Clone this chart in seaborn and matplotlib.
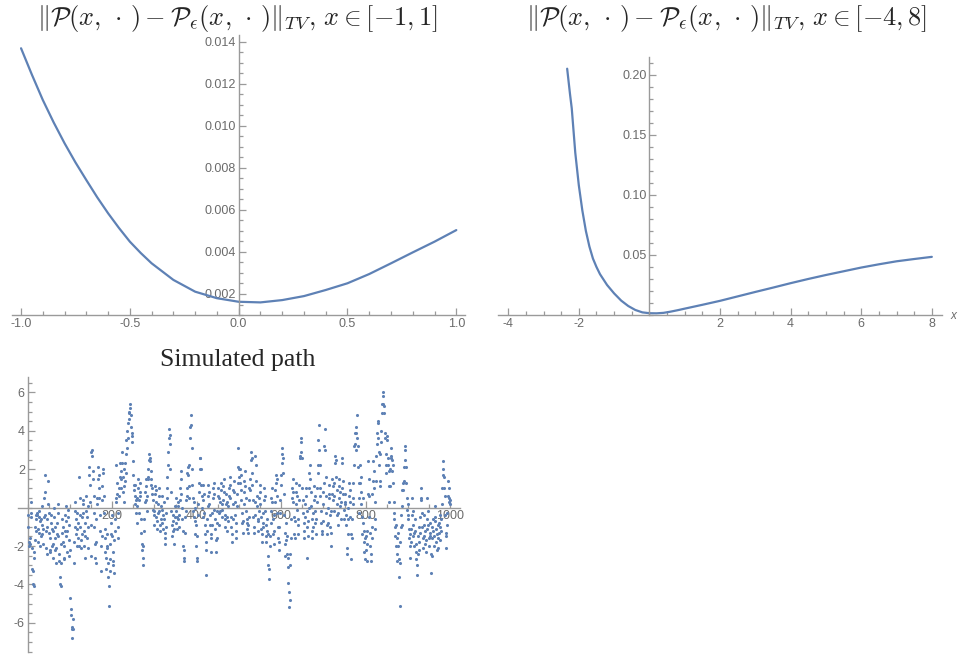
import numpy as np
import pandas as pd
import seaborn as sns
import matplotlib.pyplot as plt
from matplotlib.ticker import MultipleLocator, FixedLocator

# ---- data ----
# top-left: TV distance on [-1, 1]
x_small = [-1.0, -0.95, -0.9, -0.85, -0.8, -0.75, -0.7, -0.65, -0.6, -0.55,
           -0.5, -0.45, -0.4, -0.3, -0.2, -0.1, 0.0,
           0.1, 0.2, 0.3, 0.4, 0.5, 0.6, 0.7, 0.8, 0.9, 1.0]
tv_small = [0.01369, 0.01243, 0.01123, 0.01016, 0.00917, 0.00826, 0.00742,
            0.00660, 0.00584, 0.00514, 0.00449, 0.00395, 0.00346,
            0.00267, 0.00211, 0.00180, 0.00163, 0.00160, 0.00171, 0.00190,
            0.00219, 0.00251, 0.00295, 0.00346, 0.00398, 0.00449, 0.00504]

# top-right: TV distance on [-4, 8] (curve only visible from about -2.33)
x_wide = [-2.33, -2.25, -2.2, -2.1, -2.0, -1.9, -1.8, -1.7, -1.6, -1.5, -1.4,
          -1.2, -1.0, -0.8, -0.6, -0.4, -0.2, 0.0, 0.2, 0.4, 0.6, 0.8, 1.0,
          1.5, 2.0, 2.5, 3.0, 3.5, 4.0, 4.5, 5.0, 5.5, 6.0, 6.5, 7.0, 7.5, 8.0]
tv_wide = [0.205, 0.184, 0.172, 0.135, 0.108, 0.087, 0.070, 0.057, 0.047,
           0.040, 0.034, 0.025, 0.018, 0.012, 0.0075, 0.0042, 0.0022, 0.0015,
           0.0014, 0.0018, 0.0028, 0.0040, 0.0053, 0.0085, 0.0118, 0.0155,
           0.0192, 0.0228, 0.0265, 0.0300, 0.0333, 0.0364, 0.0395, 0.0422,
           0.0447, 0.0466, 0.0484]

# bottom: simulated path, 1000 steps (values estimated from the scatter)
path = [
    -0.4, -1.0, -1.8, -2.0, -1.9, -1.6, -0.3, 0.3, -0.5, -2.1, -3.2, -3.3, -4.0, -4.1, -2.6, -2.3, -1.7, -1.0, -0.4, -0.6, -1.2, -0.4, -0.3, -1.1, -1.8,
    -0.5, -0.2, -1.3, -0.7, -2.0, -1.5, -0.6, 0.1, -0.9, -1.4, -1.9, -1.1, -0.5, 0.5, 0.8, 1.7, -0.4, -1.2, -2.1, -2.4, -1.0, -0.6, 1.4, 0.2, -0.3,
    -1.3, -2.2, -2.3, -1.6, -0.8, -0.4, -1.1, -2.0, -2.6, -1.9, -1.2, -0.5, 0.0, -1.0, -1.6, -2.2, -2.9, -2.1, -1.4, -0.8, 0.2, -0.3, -1.5, -2.8, -2.4,
    -3.6, -4.0, -4.1, -2.9, -1.9, -1.3, -0.6, -1.0, -1.8, -2.6, -2.7, -2.0, -1.2, -0.4, 0.1, -0.7, -1.5, -2.3, -1.2, -0.5, -0.1, -0.9, -1.7, -2.5, -2.2,
    -4.7, -5.3, -5.6, -6.2, -6.3, -6.8, -6.3, -5.8, -2.9, -1.8, -1.0, -0.2, 0.3, -0.6, -1.4, -2.0, -1.1, -0.3, -0.8, -1.6, -2.0, 1.6, 0.5, -0.4, -1.0,
    -1.7, -2.1, -1.4, -0.5, 0.2, 0.4, -0.3, -1.2, -2.0, -2.6, -1.5, -0.8, -0.2, 0.6, -0.5, -1.6, -2.1, -1.0, 0.1, 1.7, 2.1, 1.2, 0.3, -0.9, -2.5,
    2.9, 3.0, 2.7, 1.5, 1.9, 0.6, -0.3, -1.0, -1.9, -2.6, -2.9, -1.8, -0.6, 0.2, 0.5, 1.5, 2.1, 1.7, 1.0, 0.5, -0.4, -1.2, -2.0, -3.3, -1.5,
    0.4, 1.1, 2.0, 1.8, 0.6, -0.3, -1.1, -1.6, -2.3, -2.6, -3.2, -2.1, -1.4, -2.0, -2.9, -3.6, -4.1, -5.1, -3.3, -2.7, -1.9, -1.4, -0.8, -0.4, -1.5,
    -2.3, -3.0, -2.8, -3.4, -1.7, -1.2, -0.6, 0.5, 0.3, 2.2, 1.3, 0.7, -0.3, -1.6, -1.0, 1.0, 0.6, 1.6, 2.3, 1.9, 1.0, 1.5, 2.9, 2.3, 1.6,
    0.8, 0.3, 1.1, 2.0, 1.4, 2.3, 1.8, 2.8, 3.5, 3.1, 4.0, 3.6, 4.4, 4.9, 5.0, 4.6, 5.2, 5.4, 4.8, 4.2, 3.7, 3.4, 3.9, 2.4, 1.7,
    1.2, 0.9, 0.2, 0.6, 1.2, 0.4, -0.3, -0.8, 0.1, 0.5, 1.5, 1.0, 0.4, -0.3, 0.6, 1.3, 0.8, -0.6, -1.3, -1.9, -2.2, -2.6, -3.0, -2.0, -1.2,
    -0.6, 0.3, 0.8, 1.5, 1.1, 0.4, -0.2, 0.6, 1.5, 1.6, 2.0, 2.5, 2.8, 2.4, 2.6, 1.9, 1.5, 1.2, 0.7, 1.0, 0.4, -0.1, -0.4, -0.9, -0.2,
    0.7, 1.1, 0.9, 0.3, -0.5, -1.1, -0.7, -0.3, 0.2, 1.0, 0.6, -0.2, -0.9, -1.2, -0.6, 0.1, 0.6, -0.1, -0.8, -1.1, -0.4, 0.3, -0.6, -1.3, -1.6,
    -1.9, -1.0, -0.3, 0.5, 1.0, 1.6, 2.2, 2.9, 3.6, 4.1, 3.8, 3.3, 2.0, 0.8, -0.2, -0.9, -1.5, -0.7, -0.4, -1.2, -1.9, -1.1, -0.5, 0.1, 0.5,
    -0.2, -0.8, -1.1, -0.5, 0.3, 0.1, -0.6, -1.0, -0.4, 0.4, 1.0, 1.9, 1.5, 0.7, 0.0, -0.6, -1.2, -2.0, -2.6, -2.8, -2.2, -1.3, -0.5, -0.2, 0.4,
    1.0, 0.6, 1.8, 2.1, 1.7, 2.2, 1.1, 0.5, 3.6, 4.2, 4.8, 4.3, 3.1, 2.0, 1.2, 0.5, -0.2, -0.5, 0.3, 0.0, -0.7, -1.4, -0.9, -2.0, -2.8,
    -2.6, -1.5, -0.4, 0.2, 0.8, 1.3, 2.0, 2.6, 2.6, 2.0, 1.2, 0.6, 0.0, -0.5, 0.4, 1.2, 0.7, -0.3, -0.9, -1.4, -1.8, -3.5, -2.2, -1.2, -0.6,
    0.1, 0.6, 1.2, 0.8, 0.2, -0.4, -0.9, -1.6, -2.3, -1.4, -0.9, -0.3, 0.5, 1.0, 1.3, 0.7, -0.1, -0.6, -1.1, -1.7, -2.3, -1.6, -0.8, -0.2, 0.6,
    1.0, 0.5, -0.3, -0.9, -0.2, 0.3, 1.3, 0.9, 0.2, -0.5, -0.1, 0.4, 1.1, 1.5, 0.8, -0.4, -1.0, -0.6, 0.2, 0.7, 0.3, -0.5, -1.2, -0.7, 0.1,
    0.6, 1.0, 1.6, 1.2, 0.5, -0.5, -1.0, -1.8, -1.4, -0.6, 0.2, 0.9, 1.4, 0.8, 0.3, -0.4, -1.2, -1.6, -0.8, 0.1, 0.7, 1.3, 2.1, 3.1, 2.0,
    1.6, 1.3, 2.0, 1.7, 0.9, 0.4, -0.3, -0.8, -1.3, -0.7, 0.2, 0.8, 1.4, 1.9, 1.1, 0.5, -0.2, -0.8, -1.1, -0.6, -1.3, -0.9, -0.5, 0.4, 1.0,
    1.5, 0.9, 2.5, 2.9, 2.6, 1.8, 1.2, 0.4, -0.5, -1.0, -1.3, -0.4, 0.3, 2.7, 2.2, 1.4, 0.6, 0.1, -0.6, -1.2, -0.7, -0.2, 0.5, 1.2, 0.8,
    0.2, -0.5, -1.1, -1.8, -1.4, -0.8, -1.0, -0.3, 0.4, 1.0, 0.6, -0.2, -0.9, -1.5, -1.8, -1.2, -0.6, -1.4, -2.5, -3.0, -3.7, -3.2, -2.0, -1.5, -0.8,
    -0.2, 0.5, 1.0, 0.3, -0.6, -1.4, -1.9, -1.2, -0.4, 0.3, 0.9, 1.3, 1.7, 1.5, 0.6, -0.3, -1.0, -1.6, -2.2, -1.8, -1.0, -0.3, 0.4, 1.2, 1.7,
    2.3, 2.8, 3.1, 2.6, 1.8, 0.7, -0.4, -1.3, -1.9, -2.5, -1.7, -0.8, -1.5, -2.4, -2.6, -3.1, -3.9, -4.4, -5.2, -4.8, -3.0, -2.4, -1.6, -0.6, 0.5,
    1.0, 1.5, 0.8, 0.3, -0.5, -1.4, -1.6, -0.7, 0.2, 0.8, 1.3, 0.6, -0.1, -0.9, -1.4, -0.6, 0.4, 1.2, 2.7, 2.6, 2.9, 3.4, 3.6, 2.6, 1.0,
    0.4, -0.3, -0.8, -1.6, -1.2, -0.5, 0.2, 1.0, 0.6, -0.2, -1.0, -2.6, -1.5, -0.7, 0.0, 1.0, 1.8, 2.2, 1.5, 0.8, 0.1, -0.6, -1.2, -1.6, -1.0,
    -0.3, 0.4, 1.1, 0.6, -0.2, -0.8, -1.4, -0.6, 0.3, 1.0, 1.8, 2.2, 3.5, 4.3, 3.0, 2.2, 1.0, 0.6, -0.2, -0.8, -1.2, -1.4, -0.7, 0.2, 0.8,
    1.3, 3.2, 4.1, 3.0, 1.6, 0.6, -0.3, -0.9, -1.4, -0.8, 0.0, 0.7, 1.2, 0.5, -0.4, -1.0, -2.0, -1.3, -0.2, 0.7, 1.5, 1.1, 0.4, -0.2, 0.6,
    1.3, 2.3, 2.7, 2.5, 1.6, 0.9, 0.2, -0.4, -0.9, -0.3, 0.5, 1.1, 1.5, 0.8, 0.1, -0.6, 0.3, 1.0, 2.6, 2.3, 1.4, 0.7, -0.1, -0.6, 0.2,
    0.7, 0.3, -0.4, -0.9, -2.1, -2.4, -1.4, -0.6, 0.0, 0.6, 1.3, 0.9, 0.3, -0.5, -1.4, -2.7, -1.6, -0.6, 0.2, 0.5, 1.3, 2.2, 3.2, 3.9, 3.3,
    3.0, 3.9, 4.2, 3.6, 4.8, 3.2, 2.1, 1.3, 0.5, -0.3, 1.3, 2.2, 1.6, 0.8, 0.2, -0.5, -1.4, -0.8, 0.5, -1.2, -1.8, -2.3, -1.6, -2.7, -2.2,
    -1.5, -2.8, -1.9, -1.2, 0.7, 2.4, 1.5, 0.6, -0.5, -1.3, -2.0, -2.8, -2.4, -1.6, -1.0, 0.7, 1.4, 2.4, 1.9, 1.0, 0.3, -0.6, -1.1, 1.4, 2.7,
    3.3, 3.9, 4.5, 4.4, 3.6, 2.9, 2.2, 1.4, 1.1, 2.8, 3.4, 4.0, 4.9, 5.4, 6.0, 5.8, 5.4, 5.3, 4.9, 3.9, 3.6, 2.8, 2.2, 1.8, 3.7,
    3.5, 2.6, 2.2, 1.9, 1.1, 0.3, 1.1, 2.0, 2.6, 3.1, 2.7, 2.5, 1.9, 2.2, 1.3, 0.3, -0.6, -0.3, -1.0, -1.5, -2.0, -0.9, -1.6, -2.4, -2.8,
    -2.0, -1.3, -2.7, -3.6, -5.1, -2.9, -1.8, -1.0, -0.4, -0.9, 0.1, 0.9, 1.3, 0.9, 1.4, 2.1, 2.5, 3.2, 3.0, 2.1, 1.3, 0.5, -0.1, 0.2, -0.6,
    -0.4, -1.1, -1.6, -2.0, -1.4, -2.6, -1.8, -1.1, -0.4, 0.5, -0.2, -0.9, -1.5, -2.0, -1.3, -0.6, -1.2, -1.9, -2.3, -2.7, -3.0, -3.5, -2.4, -1.5, -1.0,
    -1.8, -2.2, -1.3, -0.5, 0.5, 1.0, 0.4, -0.3, -1.0, -1.6, -2.1, -1.5, -0.9, -0.4, -1.2, -1.9, -2.3, -1.7, -1.1, -0.6, 0.5, -0.2, -0.9, -1.6, -2.0,
    -1.3, -0.8, -1.5, -2.4, -3.4, -2.5, -1.6, -1.0, -0.6, -1.2, -2.0, -1.5, -0.7, 0.1, -0.5, -1.1, -1.8, -2.2, -1.4, -0.9, -1.6, -2.1, -1.3, -0.8, -0.4,
    -1.0, -1.7, -1.2, -0.6, 0.2, 1.0, 1.7, 2.4, 2.0, 1.6, 1.0, 0.6, -0.4, -1.3, -2.1, -1.5, -0.9, -0.3, 0.6, 1.4, 1.0, 0.5, 0.3, 0.2, 0.4,
]
steps = list(range(1, len(path) + 1))

title_small = r'$\Vert\mathcal{P}(x,\,\cdot\,)-\mathcal{P}_{\epsilon}(x,\,\cdot\,)\Vert_{TV},\,x\in[-1,1]$'
title_wide = r'$\Vert\mathcal{P}(x,\,\cdot\,)-\mathcal{P}_{\epsilon}(x,\,\cdot\,)\Vert_{TV},\,x\in[-4,8]$'

# ---- style ----
sns.set_theme(style='white')
plt.rcParams['font.family'] = ['Liberation Sans', 'DejaVu Sans']
plt.rcParams['mathtext.fontset'] = 'cm'

blue = '#5E81B5'
axis_gray = '#9a9a9a'
label_gray = '#6b6b6b'


def mma_axes(ax, x0, y0):
    # Mathematica-like crossing axes
    for s in ['top', 'right']:
        ax.spines[s].set_visible(False)
    ax.spines['left'].set_position(('data', x0))
    ax.spines['bottom'].set_position(('data', y0))
    for s in ['left', 'bottom']:
        ax.spines[s].set_color(axis_gray)
        ax.spines[s].set_linewidth(1.0)
    ax.tick_params(which='both', direction='in', color=axis_gray,
                   bottom=True, left=True, top=False, right=False,
                   labelcolor=label_gray, labelsize=9, pad=2, width=0.9)
    ax.tick_params(which='major', length=5)
    ax.tick_params(which='minor', length=3)
    ax.set_xlabel('')
    ax.set_ylabel('')
    ax.patch.set_alpha(0)


fig = plt.figure(figsize=(9.58, 6.56), dpi=100)

# top-left
ax1 = fig.add_axes([0.0122, 0.5198, 0.4732, 0.4268])
sns.lineplot(x=x_small, y=tv_small, color=blue, lw=1.6, ax=ax1)
ax1.set_xlim(-1.043, 1.04)
ax1.set_ylim(0.001, 0.01432)
ax1.xaxis.set_major_locator(FixedLocator([-1.0, -0.5, 0.0, 0.5, 1.0]))
ax1.xaxis.set_minor_locator(MultipleLocator(0.1))
ax1.yaxis.set_major_locator(FixedLocator([0.002, 0.004, 0.006, 0.008, 0.010, 0.012, 0.014]))
ax1.yaxis.set_minor_locator(MultipleLocator(0.0005))
ax1.set_xticklabels(['-1.0', '-0.5', '0.0', '0.5', '1.0'])
ax1.set_yticklabels(['0.002', '0.004', '0.006', '0.008', '0.010', '0.012', '0.014'])
mma_axes(ax1, 0.0, 0.001)

# top-right
ax2 = fig.add_axes([0.5198, 0.5198, 0.4632, 0.3938])
sns.lineplot(x=x_wide, y=tv_wide, color=blue, lw=1.6, ax=ax2)
ax2.set_xlim(-4.29, 8.28)
ax2.set_ylim(0, 0.215)
ax2.xaxis.set_major_locator(FixedLocator([-4, -2, 2, 4, 6, 8]))
ax2.xaxis.set_minor_locator(MultipleLocator(0.5))
ax2.yaxis.set_major_locator(FixedLocator([0.05, 0.10, 0.15, 0.20]))
ax2.yaxis.set_minor_locator(MultipleLocator(0.01))
ax2.set_xticklabels(['-4', '-2', '2', '4', '6', '8'])
ax2.set_yticklabels(['0.05', '0.10', '0.15', '0.20'])
mma_axes(ax2, 0.0, 0.0)

# bottom-left scatter
ax3 = fig.add_axes([0.0191, 0.0066, 0.461, 0.4188])
df = pd.DataFrame({'step': steps, 'value': path})
sns.scatterplot(data=df, x='step', y='value', color=blue, s=5,
                linewidth=0, ax=ax3, zorder=3)
ax3.set_xlim(-22, 1023)
ax3.set_ylim(-7.5, 6.8)
ax3.xaxis.set_major_locator(FixedLocator([200, 400, 600, 800, 1000]))
ax3.xaxis.set_minor_locator(MultipleLocator(50))
ax3.yaxis.set_major_locator(FixedLocator([-6, -4, -2, 2, 4, 6]))
ax3.yaxis.set_minor_locator(MultipleLocator(0.5))
ax3.set_xticklabels(['200', '400', '600', '800', '1000'])
ax3.set_yticklabels(['-6', '-4', '-2', '2', '4', '6'])
mma_axes(ax3, 0, 0)

# titles
fig.text(238 / 958, 1 - 19 / 656, title_small, ha='center', va='center', fontsize=19)
fig.text(727 / 958, 1 - 19 / 656, title_wide, ha='center', va='center', fontsize=19)
fig.text(238 / 958, 1 - 360 / 656, 'Simulated path', ha='center', va='center',
         fontsize=18.5, family=['Liberation Serif', 'DejaVu Serif'])
fig.text(953 / 958, 1 - 316 / 656, 'x', ha='center', va='center', fontsize=8.5,
         style='italic', color=label_gray)

fig.savefig('out.png', dpi=100)
